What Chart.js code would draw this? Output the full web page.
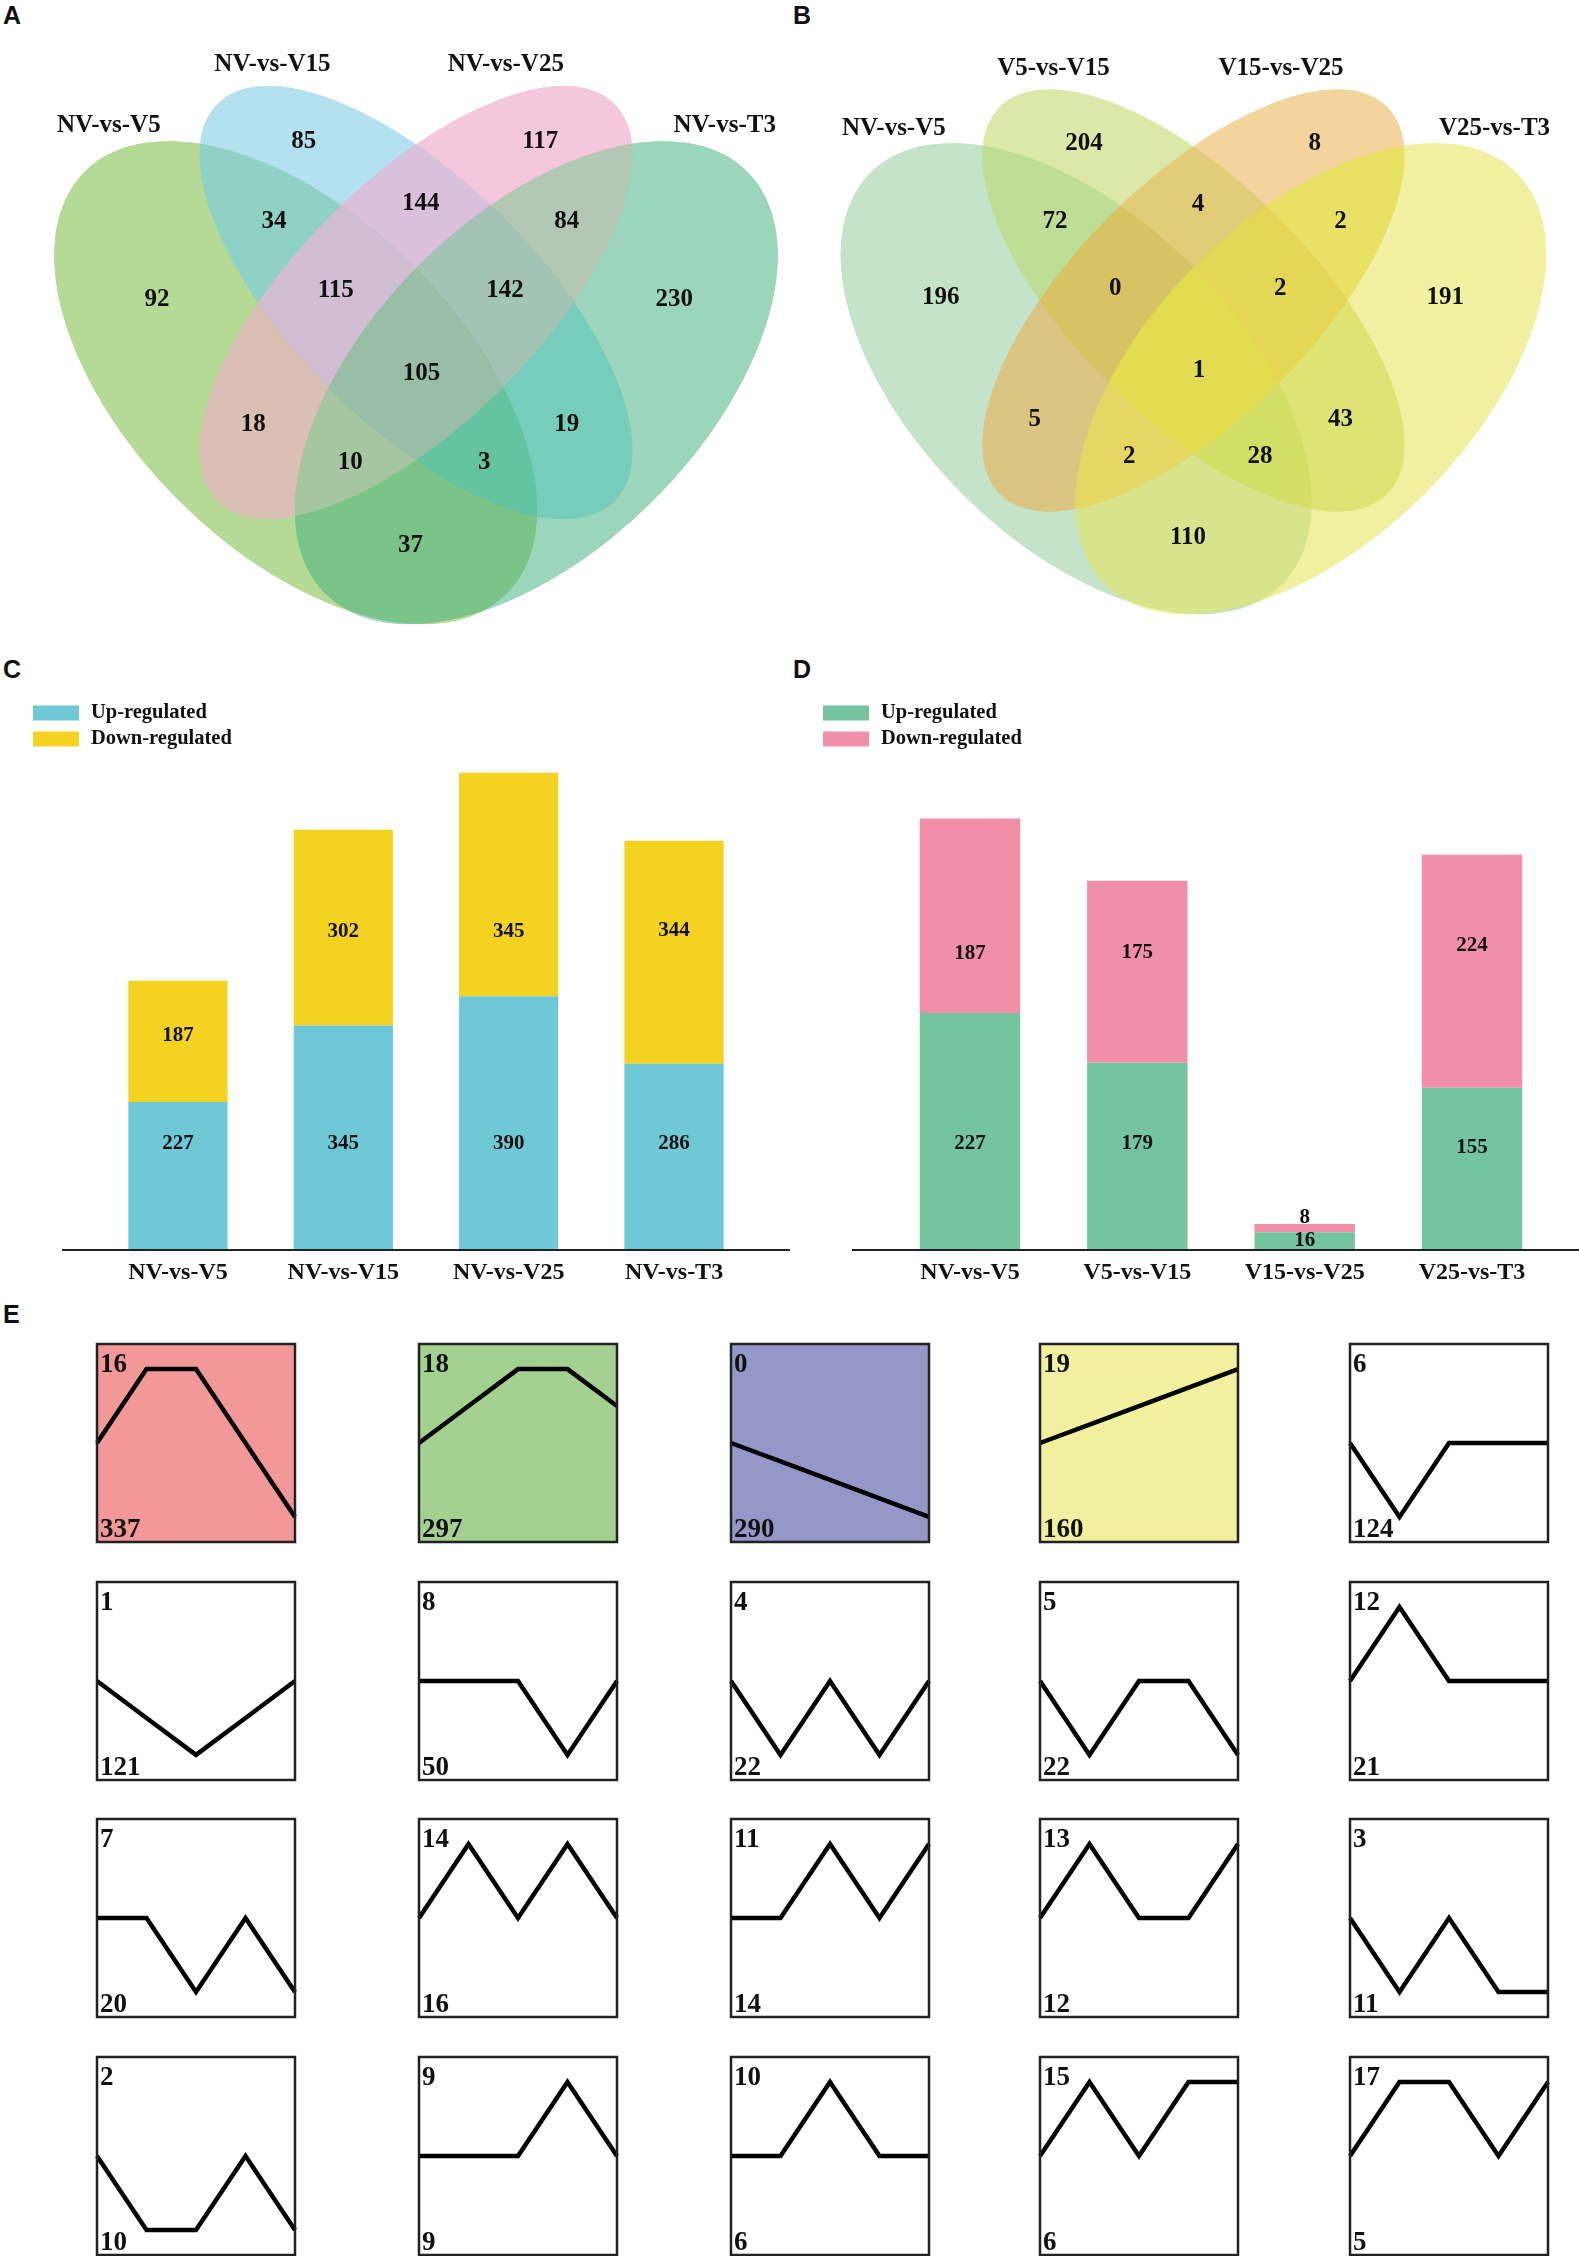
<!DOCTYPE html>
<html><head><meta charset="utf-8">
<script src="https://cdn.jsdelivr.net/npm/chart.js@4.4.0/dist/chart.umd.min.js"></script>
<style>
html,body{margin:0;padding:0;background:#fff;}
#page{position:relative;width:1579px;height:2256px;background:#fff;overflow:hidden;}
canvas{position:absolute;}
.tag{position:absolute;font-family:"Liberation Sans",Arial,sans-serif;font-weight:bold;font-size:25px;line-height:25px;color:#111;}
</style></head><body><div id="page">
<div class="tag" style="left:3px;top:3px">A</div>
<div class="tag" style="left:793px;top:3px">B</div>
<div class="tag" style="left:3px;top:657px">C</div>
<div class="tag" style="left:793px;top:657px">D</div>
<div class="tag" style="left:3px;top:1302px">E</div>
<canvas id="vennA" width="790" height="640" style="left:0px;top:0px"></canvas>
<canvas id="vennB" width="789" height="640" style="left:790px;top:0px"></canvas>
<canvas id="barC" width="790" height="650" style="left:0px;top:640px"></canvas>
<canvas id="barD" width="789" height="650" style="left:790px;top:640px"></canvas>
</div>
<script>
// ---------------- DATA ----------------
const vennASets = ["NV-vs-V5","NV-vs-V15","NV-vs-V25","NV-vs-T3"];
const vennBSets = ["NV-vs-V5","V5-vs-V15","V15-vs-V25","V25-vs-T3"];
// region order: 1 only, 2 only, 3 only, 4 only, 12, 23, 34, 123, 234, 1234, 13, 24, 134, 124, 14
const vennACounts = [92,85,117,230,34,144,84,115,142,105,18,19,10,3,37];
const vennBCounts = [196,204,8,191,72,4,2,0,2,1,5,43,2,28,110];

const barCCategories = ["NV-vs-V5","NV-vs-V15","NV-vs-V25","NV-vs-T3"];
const barCUp = [227,345,390,286];
const barCDown = [187,302,345,344];
const barDCategories = ["NV-vs-V5","V5-vs-V15","V15-vs-V25","V25-vs-T3"];
const barDUp = [227,179,16,155];
const barDDown = [187,175,8,224];
const seriesNames = ["Up-regulated","Down-regulated"];

const timePoints = ["NV","V5","V15","V25","T3"];
const profileIds = [16,18,0,19,6, 1,8,4,5,12, 7,14,11,13,3, 2,9,10,15,17];
const profileCounts = [337,297,290,160,124, 121,50,22,22,21, 20,16,14,12,11, 10,9,6,6,5];
const profileValues = [
  [0,1,1,0,-1],[0,0.5,1,1,0.5],[0,-0.25,-0.5,-0.75,-1],[0,0.25,0.5,0.75,1],[0,-1,0,0,0],
  [0,-0.5,-1,-0.5,0],[0,0,0,-1,0],[0,-1,0,-1,0],[0,-1,0,0,-1],[0,1,0,0,0],
  [0,0,-1,0,-1],[0,1,0,1,0],[0,0,1,0,1],[0,1,0,0,1],[0,-1,0,-1,-1],
  [0,-1,-1,0,-1],[0,0,0,1,0],[0,0,1,0,0],[0,1,0,1,1],[0,1,1,0,1]
];

// ---------------- LAYOUT / STYLE ----------------
const SERIF = "'Liberation Serif','Times New Roman',serif";
const vennEllipses = [
  {x:0.35,y:0.47,a:0.372,b:0.207,rot:135},
  {x:0.50,y:0.57,a:0.35,b:0.152,rot:135},
  {x:0.50,y:0.57,a:0.35,b:0.152,rot:45},
  {x:0.65,y:0.47,a:0.372,b:0.207,rot:45}
];
const vennRegionSets = [[0],[1],[2],[3],[0,1],[1,2],[2,3],[0,1,2],[1,2,3],[0,1,2,3],[0,2],[1,3],[0,2,3],[0,1,3],[0,3]];
const vennRegionPos = [[0.177,0.574],[0.360,0.771],[0.655,0.771],[0.822,0.574],[0.323,0.671],[0.506,0.693],[0.688,0.671],[0.400,0.585],[0.611,0.585],[0.507,0.481],[0.297,0.418],[0.688,0.418],[0.418,0.370],[0.585,0.370],[0.493,0.267]];
const vennSetPos = [[0.117,0.790],[0.321,0.867],[0.612,0.867],[0.885,0.790]];
const vennColorsA = ['rgb(103,179,43)','rgb(103,197,229)','rgb(235,143,183)','rgb(51,169,117)'];
const vennColorsB = ['rgb(135,199,139)','rgb(185,209,81)','rgb(231,169,57)','rgb(225,225,65)'];
const vennRegionColorsA = ['rgb(180,218,150)','rgb(180,225,240)','rgb(244,200,220)','rgb(155,213,187)',
  'rgb(142,210,198)','rgb(218,192,218)','rgb(178,200,180)','rgb(210,190,210)','rgb(163,196,180)',
  'rgb(152,190,168)','rgb(218,192,180)','rgb(118,205,188)','rgb(165,198,160)','rgb(100,195,160)','rgb(122,196,138)'];
const vennRegionColorsB = ['rgb(197,227,200)','rgb(220,232,168)','rgb(243,212,156)','rgb(240,240,160)',
  'rgb(190,222,150)','rgb(225,205,120)','rgb(232,225,100)','rgb(215,195,100)','rgb(228,215,85)',
  'rgb(225,220,80)','rgb(218,198,130)','rgb(222,228,115)','rgb(228,215,100)','rgb(210,222,100)','rgb(215,228,140)'];

function ellipsePath(ctx, e, x, y, ux, uy){
  ctx.ellipse(x.getPixelForValue(e.x), y.getPixelForValue(e.y), e.a*ux, e.b*uy, -e.rot*Math.PI/180, 0, Math.PI*2);
}

const vennPlugin = {
  id:'venn',
  beforeDatasetsDraw(chart, args, opts){
    const {ctx, scales:{x,y}} = chart;
    const ux = x.getPixelForValue(1)-x.getPixelForValue(0);
    const uy = y.getPixelForValue(0)-y.getPixelForValue(1);
    // underlay: translucent ellipses
    ctx.save();
    vennEllipses.forEach((e,i)=>{
      ctx.beginPath(); ellipsePath(ctx, e, x, y, ux, uy);
      ctx.globalAlpha = 0.5; ctx.fillStyle = opts.colors[i]; ctx.fill();
    });
    ctx.restore();
    // region fills
    vennRegionSets.forEach((members, r)=>{
      ctx.save();
      vennEllipses.forEach((e,i)=>{
        ctx.beginPath();
        if (members.includes(i)) { ellipsePath(ctx, e, x, y, ux, uy); ctx.clip(); }
        else { ctx.rect(-10,-10,chart.width+20,chart.height+20); ellipsePath(ctx, e, x, y, ux, uy); ctx.clip('evenodd'); }
      });
      ctx.fillStyle = opts.regionColors[r];
      ctx.fillRect(0,0,chart.width,chart.height);
      ctx.restore();
    });
  },
  afterDatasetsDraw(chart, args, opts){
    const {ctx, scales:{x,y}} = chart;
    ctx.save();
    ctx.fillStyle = '#111';
    ctx.textAlign = 'center'; ctx.textBaseline = 'middle';
    ctx.font = "bold 25px " + SERIF;
    const meta = chart.getDatasetMeta(0);
    meta.data.forEach((pt,i)=>{
      ctx.fillText(String(chart.data.datasets[0].data[i].v), pt.x, pt.y);
    });
    opts.sets.forEach((s,i)=>{
      ctx.fillText(s, x.getPixelForValue(vennSetPos[i][0]), y.getPixelForValue(vennSetPos[i][1]));
    });
    ctx.restore();
  }
};

function makeVenn(id, sets, counts, colors, regionColors, pad){
  new Chart(document.getElementById(id), {
    type:'scatter',
    data:{datasets:[{data: vennRegionPos.map((p,i)=>({x:p[0], y:p[1], v:counts[i]})), pointRadius:0, pointHoverRadius:0}]},
    options:{
      responsive:false, animation:false, devicePixelRatio:1,
      layout:{padding:pad},
      plugins:{legend:{display:false}, tooltip:{enabled:false}, venn:{sets:sets, colors:colors, regionColors:regionColors}},
      scales:{x:{type:'linear', min:0, max:pad.xmax, display:false}, y:{type:'linear', min:0.15, max:0.9, display:false}}
    },
    plugins:[vennPlugin]
  });
}
makeVenn('vennA', vennASets, vennACounts, vennColorsA, vennRegionColorsA, {left:15, right:5.1, top:37.8, bottom:0.7, xmax:0.96});
makeVenn('vennB', vennBSets, vennBCounts, vennColorsB, vennRegionColorsB, {left:12.4, right:10.2, top:42.4, bottom:11, xmax:0.98});

// ---------------- BAR CHARTS ----------------
// value-label anchor heights (in axis units) as placed in the original figure
const barLabelAnchors = {
  barC:{up:[162,162,162,162], down:[329,490,490,492]},
  barD:{up:[101,101,8,98], down:[284,285,30,292]}
};

const barDecor = {
  id:'barDecor',
  afterDatasetsDraw(chart){
    const {ctx} = chart;
    const ys = chart.scales.y;
    const anchors = barLabelAnchors[chart.canvas.id];
    ctx.save();
    ctx.fillStyle = '#111';
    ctx.font = "bold 21px " + SERIF;
    ctx.textAlign = 'center'; ctx.textBaseline = 'middle';
    chart.data.datasets.forEach((ds,di)=>{
      const arr = di===0 ? anchors.up : anchors.down;
      chart.getDatasetMeta(di).data.forEach((bar,i)=>{
        ctx.fillText(String(ds.data[i]), bar.x, ys.getPixelForValue(arr[i]));
      });
    });
    // baseline axis
    const y0 = ys.getPixelForValue(0);
    ctx.strokeStyle = '#222'; ctx.lineWidth = 2;
    ctx.beginPath(); ctx.moveTo(62, y0+1); ctx.lineTo(chart.width, y0+1); ctx.stroke();
    // legend
    ctx.textAlign = 'left';
    ctx.font = "bold 20.5px " + SERIF;
    chart.data.datasets.forEach((ds,di)=>{
      const cy = 73 + di*26;
      ctx.fillStyle = ds.backgroundColor;
      ctx.fillRect(33, cy-7.5, 46, 15);
      ctx.fillStyle = '#111';
      ctx.fillText(ds.label, 91, cy);
    });
    ctx.restore();
  }
};

function makeBar(id, cats, up, down, colors, pad, ymax){
  new Chart(document.getElementById(id), {
    type:'bar',
    data:{labels:cats, datasets:[
      {label:seriesNames[0], data:up, backgroundColor:colors[0]},
      {label:seriesNames[1], data:down, backgroundColor:colors[1]}
    ]},
    options:{
      responsive:false, animation:false, devicePixelRatio:1,
      layout:{padding:pad},
      datasets:{bar:{categoryPercentage:1, barPercentage:0.6}},
      plugins:{legend:{display:false}, tooltip:{enabled:false}},
      scales:{
        x:{stacked:true, grid:{display:false, drawTicks:false}, border:{display:false},
           ticks:{font:{family:SERIF, weight:'bold', size:24}, color:'#111', padding:9, maxRotation:0, autoSkip:false},
           afterFit(s){ s.height = 40; }},
        y:{stacked:true, display:false, min:0, max:ymax}
      }
    },
    plugins:[barDecor]
  });
}
makeBar('barC', barCCategories, barCUp, barCDown, ['#6FC8D6','#F3D31F'], {left:95.3, right:33.3, top:90.6, bottom:1}, 800);
makeBar('barD', barDCategories, barDUp, barDDown, ['#74C4A0','#F08FA7'], {left:96.3, right:23.3, top:89, bottom:1}, 500);

// ---------------- PROFILE GRID ----------------
const colLefts = [97, 419, 731, 1040, 1350];
const rowTops = [1344, 1582, 1819, 2057];
const boxSize = 198, boxPad = 4;
const boxFills = ['#F29898','#A3D290','#9597C9','#F0F09E'];

const boxPlugin = {
  id:'boxDecor',
  beforeDatasetsDraw(chart, args, opts){
    const a = chart.chartArea, ctx = chart.ctx;
    if (opts.fill){ ctx.save(); ctx.fillStyle = opts.fill; ctx.fillRect(a.left, a.top, a.right-a.left, a.bottom-a.top); ctx.restore(); }
  },
  afterDatasetsDraw(chart, args, opts){
    const a = chart.chartArea, ctx = chart.ctx;
    ctx.save();
    ctx.strokeStyle = '#222'; ctx.lineWidth = 2.5;
    ctx.strokeRect(a.left, a.top, a.right-a.left, a.bottom-a.top);
    ctx.fillStyle = '#111';
    ctx.font = "bold 27px " + SERIF;
    ctx.textAlign = 'left'; ctx.textBaseline = 'alphabetic';
    ctx.fillText(String(opts.id), a.left+3, a.top+28);
    ctx.fillText(String(opts.count), a.left+3, a.bottom-5);
    ctx.restore();
  }
};

const page = document.getElementById('page');
profileIds.forEach((pid, k)=>{
  const r = Math.floor(k/5), c = k%5;
  const cv = document.createElement('canvas');
  cv.width = boxSize + 2*boxPad; cv.height = boxSize + 2*boxPad;
  cv.style.left = (colLefts[c]-boxPad)+'px';
  cv.style.top = (rowTops[r]-boxPad)+'px';
  page.appendChild(cv);
  new Chart(cv, {
    type:'line',
    data:{labels:timePoints, datasets:[{data:profileValues[k], borderColor:'#000', borderWidth:4.5, pointRadius:0, tension:0, clip:false, borderJoinStyle:'miter'}]},
    options:{
      responsive:false, animation:false, devicePixelRatio:1,
      layout:{padding:boxPad},
      plugins:{legend:{display:false}, tooltip:{enabled:false}, boxDecor:{id:pid, count:profileCounts[k], fill:boxFills[k]||null}},
      scales:{x:{display:false, offset:false}, y:{display:false, min:-1.34, max:1.34}}
    },
    plugins:[boxPlugin]
  });
});
</script>
</body></html>
